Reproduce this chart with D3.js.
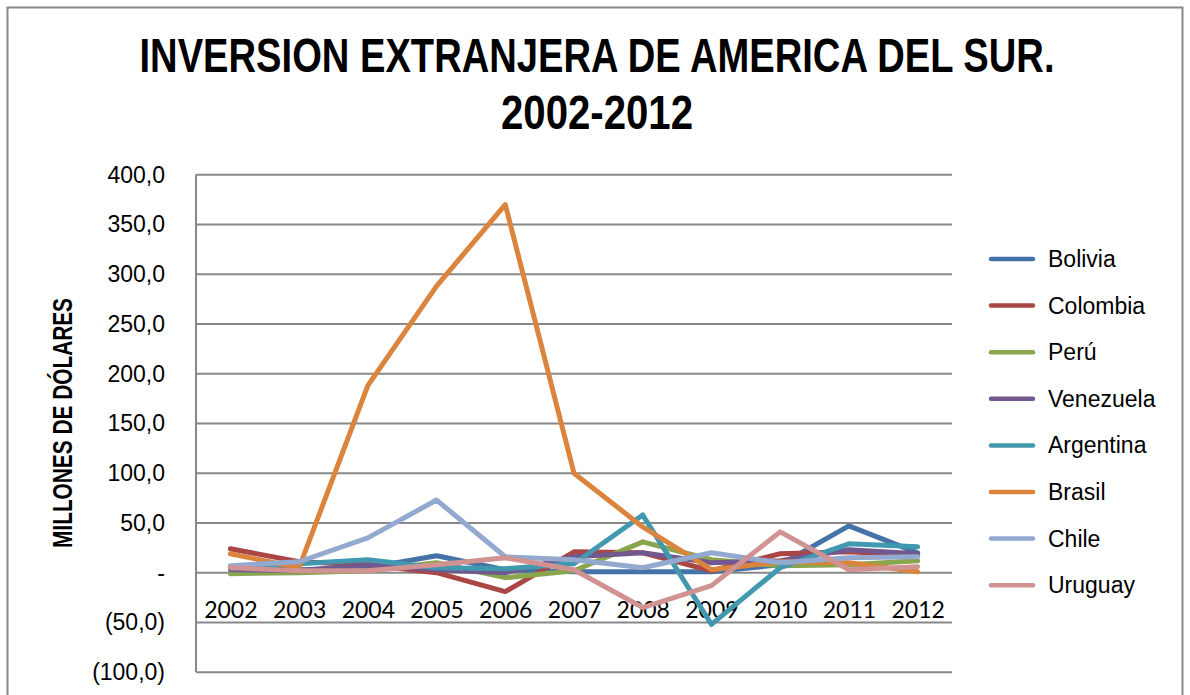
<!DOCTYPE html>
<html>
<head>
<meta charset="utf-8">
<script src="https://cdn.jsdelivr.net/npm/d3@7"></script>
<style>
  html, body { margin: 0; padding: 0; background: #fff; }
  svg { display: block; }
</style>
</head>
<body>
<svg id="chart" width="1190" height="695"></svg>
<script>
const years = ["2002","2003","2004","2005","2006","2007","2008","2009","2010","2011","2012"];
const countries = ["Bolivia","Colombia","Perú","Venezuela","Argentina","Brasil","Chile","Uruguay"];
const colors = ["#4572A7","#AA4643","#89A54E","#71588F","#4198AF","#DB843D","#93A9CF","#D19392"];
const bolivia   = [5, 3, 5, 17, 3, 1, 1, 1, 8, 47, 20];
const colombia  = [24, 11, 8, 0, -19, 21, 20, 2, 19, 21, 17];
const peru      = [-1, 0, 2, 10, -5, 2, 31, 13, 7, 8, 12];
const venezuela = [3, 2, 8, 3, 0, 16, 20, 10, 12, 23, 19];
const argentina = [5, 9, 13, 5, 4, 9, 58, -52, 5, 29, 26];
const brasil    = [19, 5, 188, 288, 370, 100, 46, 3, 11, 10, 1];
const chile     = [7, 11, 35, 73, 16, 13, 5, 20, 10, 15, 16];
const uruguay   = [5, 2, 2, 8, 15, 3, -35, -13, 41, 3, 6];
const series = [bolivia, colombia, peru, venezuela, argentina, brasil, chile, uruguay];
const yTicks = [-100, -50, 0, 50, 100, 150, 200, 250, 300, 350, 400];
const titleLines = ["INVERSION EXTRANJERA DE AMERICA DEL SUR.", "2002-2012"];
const yTitle = "MILLONES DE DÓLARES";

const svg = d3.select("#chart");
const sans = "'Liberation Sans', Arial, sans-serif";

// outer chart border
svg.append("rect").attr("x", 7.5).attr("y", 7.5).attr("width", 1175).attr("height", 720)
  .attr("fill", "#fff").attr("stroke", "#888").attr("stroke-width", 2);

const pLeft = 196, pRight = 952, pTop = 174.7, pBottom = 672.2;
const x = d3.scalePoint().domain(years).range([pLeft, pRight]).padding(0.5);
const y = d3.scaleLinear().domain([-100, 400]).range([pBottom, pTop]);

// gridlines
svg.append("g").selectAll("line").data(yTicks).join("line")
  .attr("x1", pLeft).attr("x2", pRight)
  .attr("y1", d => y(d)).attr("y2", d => y(d))
  .attr("stroke", "#888").attr("stroke-width", 2);

// y axis line
svg.append("line").attr("x1", pLeft).attr("x2", pLeft).attr("y1", pTop).attr("y2", pBottom)
  .attr("stroke", "#888").attr("stroke-width", 2);

// y tick labels
const fmt = v => v === 0 ? "-" : (v < 0 ? "(" + d3.format(".1f")(-v).replace(".", ",") + ")" : d3.format(".1f")(v).replace(".", ","));
const yAxis = d3.axisLeft(y).tickValues(yTicks).tickFormat(fmt).tickSize(0).tickPadding(31);
const gy = svg.append("g").attr("transform", `translate(${pLeft},0)`).call(yAxis);
gy.select(".domain").remove();
gy.selectAll("text").attr("font-family", sans).attr("font-size", 23).attr("fill", "#000");

// x tick labels
const xAxis = d3.axisBottom(x).tickSize(0).tickPadding(29);
const gx = svg.append("g").attr("transform", `translate(0,${y(0)})`).call(xAxis);
gx.select(".domain").remove();
gx.selectAll("text").attr("font-family", "Lato, 'Open Sans', sans-serif").attr("font-size", 23).attr("fill", "#000");

// lines
const line = d3.line().x((d, i) => x(years[i])).y(d => y(d));
svg.append("g").selectAll("path").data(series).join("path")
  .attr("d", d => line(d))
  .attr("fill", "none")
  .attr("stroke", (d, i) => colors[i])
  .attr("stroke-width", 5)
  .attr("stroke-linejoin", "round")
  .attr("stroke-linecap", "round");

// title
const titleLen = [915, 192];
svg.append("g").selectAll("text").data(titleLines).join("text")
  .attr("x", 597).attr("y", (d, i) => 72 + i * 57)
  .attr("text-anchor", "middle")
  .attr("textLength", (d, i) => titleLen[i]).attr("lengthAdjust", "spacingAndGlyphs")
  .attr("font-family", sans).attr("font-weight", "bold").attr("font-size", 47.5)
  .attr("fill", "#000").text(d => d);

// y title
svg.append("text")
  .attr("transform", "translate(72,423) rotate(-90)")
  .attr("text-anchor", "middle")
  .attr("textLength", 250).attr("lengthAdjust", "spacingAndGlyphs")
  .attr("font-family", sans).attr("font-weight", "bold").attr("font-size", 27)
  .attr("fill", "#000").text(yTitle);

// legend
const lg = svg.append("g").selectAll("g").data(countries).join("g")
  .attr("transform", (d, i) => `translate(990,${259 + i * 46.6})`);
lg.append("line").attr("x1", 1).attr("x2", 43).attr("y1", 0).attr("y2", 0)
  .attr("stroke", (d, i) => colors[i]).attr("stroke-width", 4.5).attr("stroke-linecap", "round");
lg.append("text").attr("x", 58).attr("y", 0).attr("dy", "0.35em")
  .attr("font-family", sans).attr("font-size", 23).attr("fill", "#000").text(d => d);
</script>
</body>
</html>
